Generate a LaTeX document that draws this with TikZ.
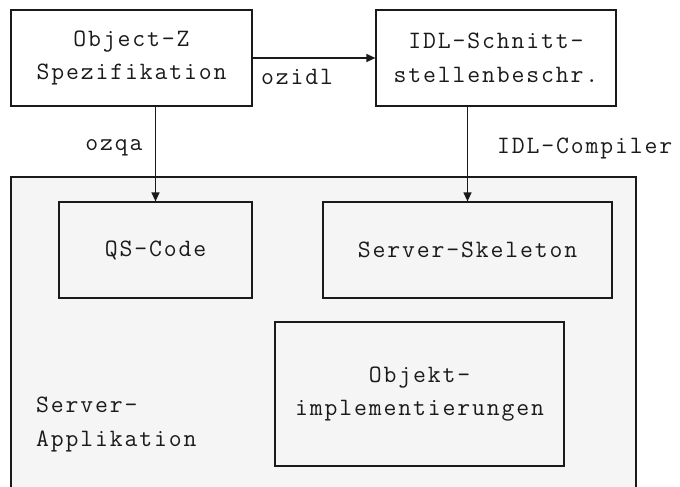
\documentclass[tikz,border=0pt]{standalone}
\usepackage{fontspec}
\setmonofont[LetterSpace=7.5]{Latin Modern Mono}
\usetikzlibrary{arrows.meta}
\definecolor{appfill}{HTML}{F5F5F5}
\definecolor{ink}{HTML}{1A1A1A}
\begin{document}
\begin{tikzpicture}[x=1pt,y=-1pt,
  every node/.style={font=\ttfamily\fontsize{25}{33.5}\selectfont, text=ink},
  box/.style={draw=ink, line width=1.2pt, rectangle, inner sep=0pt, align=center},
  lbl/.style={inner sep=0pt},
  flow/.style={draw=ink, line width=1.2pt, -{Triangle[length=9pt,width=8pt]}}]
\useasboundingbox (0,0) rectangle (680,487);
\clip (0,0) rectangle (680,487);
% enclosing server application
\node[box, fill=appfill, minimum width=625pt, minimum height=323pt] (app) at (323.5,338.5) {};
\node[lbl, anchor=north west, align=left] (applbl) at (36,397) {Server-\\Applikation};
% source artefacts
\node[box, fill=white, minimum width=241pt, minimum height=96pt] (objz) at (131.5,58) {Object-Z\\Spezifikation};
\node[box, fill=white, minimum width=240pt, minimum height=96pt] (idl) at (496,58) {IDL-Schnitt-\\stellenbeschr.};
% generated parts
\node[box, fill=appfill, minimum width=193pt, minimum height=96pt] (qs) at (155.5,250) {QS-Code};
\node[box, fill=appfill, minimum width=289pt, minimum height=96pt] (skel) at (467.5,250) {Server-Skeleton};
\node[box, fill=appfill, minimum width=289pt, minimum height=144pt] (impl) at (419.5,394) {Objekt-\\implementierungen};
% transformations
\draw[flow] (objz.east) -- (idl.west);
\draw[flow] (objz.south -| qs.north) -- (qs.north);
\draw[flow] (idl.south -| skel.north) -- (skel.north);
\node[lbl] (ozidl) at (297,77) {ozidl};
\node[lbl] (ozqa) at (114,148) {ozqa};
\node[lbl, anchor=west] (idlc) at (497,148) {IDL-Compiler};
\end{tikzpicture}
\end{document}
